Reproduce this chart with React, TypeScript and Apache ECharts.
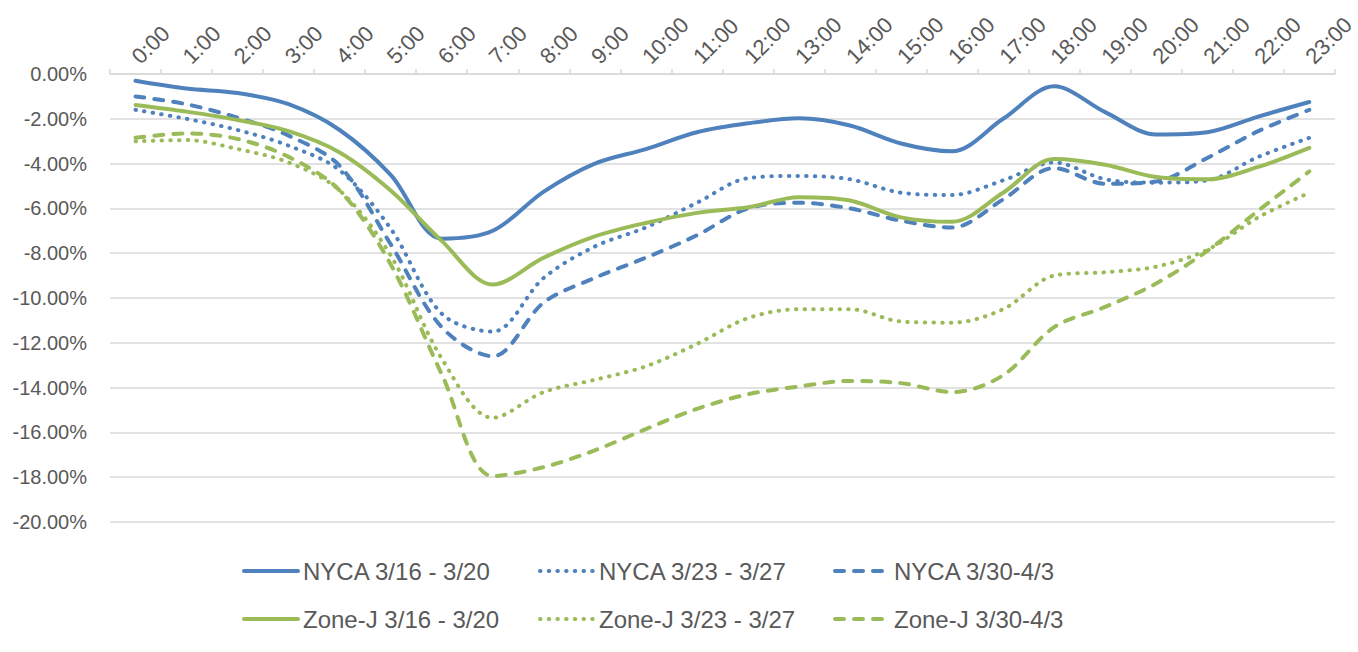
import React, { useEffect, useRef } from "react";
import * as echarts from "echarts";

const hours = ["0:00","1:00","2:00","3:00","4:00","5:00","6:00","7:00","8:00","9:00","10:00","11:00","12:00","13:00","14:00","15:00","16:00","17:00","18:00","19:00","20:00","21:00","22:00","23:00"];

const seriesNames = [
  "NYCA 3/16 - 3/20",
  "NYCA 3/23 - 3/27",
  "NYCA 3/30-4/3",
  "Zone-J 3/16 - 3/20",
  "Zone-J 3/23 - 3/27",
  "Zone-J 3/30-4/3",
];

const nyca0316 = [-0.3,-0.65,-0.85,-1.35,-2.5,-4.5,-7.35,-7.0,-5.25,-4.0,-3.35,-2.6,-2.2,-1.98,-2.3,-3.1,-3.45,-2.0,-0.55,-1.7,-2.7,-2.6,-1.9,-1.25];
const nyca0323 = [-1.6,-2.0,-2.5,-3.2,-4.3,-6.9,-10.7,-11.5,-9.1,-7.7,-6.85,-5.75,-4.65,-4.55,-4.7,-5.3,-5.4,-4.75,-3.95,-4.7,-4.85,-4.75,-3.7,-2.85];
const nyca0330 = [-1.0,-1.35,-1.95,-2.75,-4.1,-7.6,-11.3,-12.6,-10.2,-9.1,-8.2,-7.2,-6.0,-5.75,-6.0,-6.55,-6.85,-5.6,-4.2,-4.9,-4.8,-3.75,-2.55,-1.6];
const zonej0316 = [-1.38,-1.68,-2.05,-2.55,-3.5,-5.2,-7.45,-9.4,-8.2,-7.25,-6.65,-6.2,-5.95,-5.5,-5.65,-6.4,-6.6,-5.3,-3.8,-4.05,-4.6,-4.7,-4.15,-3.3];
const zonej0323 = [-3.0,-2.95,-3.35,-3.95,-5.2,-8.1,-12.7,-15.35,-14.2,-13.65,-13.05,-12.05,-10.9,-10.5,-10.5,-11.05,-11.1,-10.5,-9.0,-8.85,-8.6,-7.85,-6.4,-5.3];
const zonej0330 = [-2.85,-2.65,-2.9,-3.7,-5.2,-8.5,-13.4,-17.95,-17.55,-16.8,-15.85,-14.95,-14.3,-13.95,-13.7,-13.8,-14.2,-13.45,-11.3,-10.4,-9.35,-7.9,-6.1,-4.35];

const seriesData = [nyca0316, nyca0323, nyca0330, zonej0316, zonej0323, zonej0330];

const BLUE = "#4F81BD";
const GREEN = "#9BBB59";
const colors = [BLUE, BLUE, BLUE, GREEN, GREEN, GREEN];
const SOLID = "solid";
const DOT = [0.5, 8.2];
const DASH = [9, 10];
const dashTypes: any[] = [SOLID, DOT, DASH, SOLID, DOT, DASH];

const legendCols = [242, 538, 833];
const legendRows = [573, 621];

const FONT = "'Liberation Sans', Arial, sans-serif";
const TEXT = "#595959";

export default function App() {
  const ref = useRef<HTMLDivElement>(null);
  useEffect(() => {
    if (!ref.current) return;
    const chart = echarts.init(ref.current, null, { renderer: "svg" });
    const legends = seriesNames.map((name, i) => ({
      data: [name],
      left: legendCols[i % 3],
      top: legendRows[Math.floor(i / 3)] - 14,
      itemWidth: 54,
      itemHeight: 14,
      itemGap: 3,
      padding: 0,
      selectedMode: false,
      textStyle: { fontSize: 24, color: TEXT, fontFamily: FONT, padding: [0, 0, 0, 0] },
      itemStyle: { opacity: 0, borderWidth: 0 },
      lineStyle: { width: 4, type: "inherit", cap: "round" },
    }));
    chart.setOption({
      animation: false,
      backgroundColor: "#ffffff",
      textStyle: { fontFamily: FONT },
      legend: legends,
      grid: { left: 110, right: 17, top: 74, bottom: 130, containLabel: false },
      xAxis: {
        type: "category",
        position: "top",
        data: hours,
        boundaryGap: true,
        axisLine: { show: true, lineStyle: { color: "#D9D9D9", width: 1.5 } },
        axisTick: { show: true, length: 5, lineStyle: { color: "#D9D9D9", width: 1.5 } },
        axisLabel: { rotate: 45, margin: 14, fontSize: 22, color: TEXT, fontFamily: FONT, interval: 0 },
        splitLine: { show: false },
      },
      yAxis: {
        type: "value",
        min: -20,
        max: 0,
        interval: 2,
        axisLine: { show: false },
        axisTick: { show: false },
        axisLabel: {
          margin: 23,
          fontSize: 20,
          color: TEXT,
          fontFamily: FONT,
          formatter: (v: number) => v.toFixed(2) + "%",
        },
        splitLine: { show: true, lineStyle: { color: "#D9D9D9", width: 1.5 } },
      },
      series: seriesNames.map((name, i) => ({
        name,
        type: "line",
        data: seriesData[i],
        smooth: 0.33,
        symbol: "none",
        showSymbol: false,
        color: colors[i],
        lineStyle: { color: colors[i], width: 4, type: dashTypes[i], cap: "round", join: "round" },
        z: 2,
      })),
    });
    return () => chart.dispose();
  }, []);
  return (
    <div
      ref={ref}
      style={{ position: "absolute", left: 0, top: 0, width: 1358, height: 652, background: "#fff" }}
    />
  );
}
